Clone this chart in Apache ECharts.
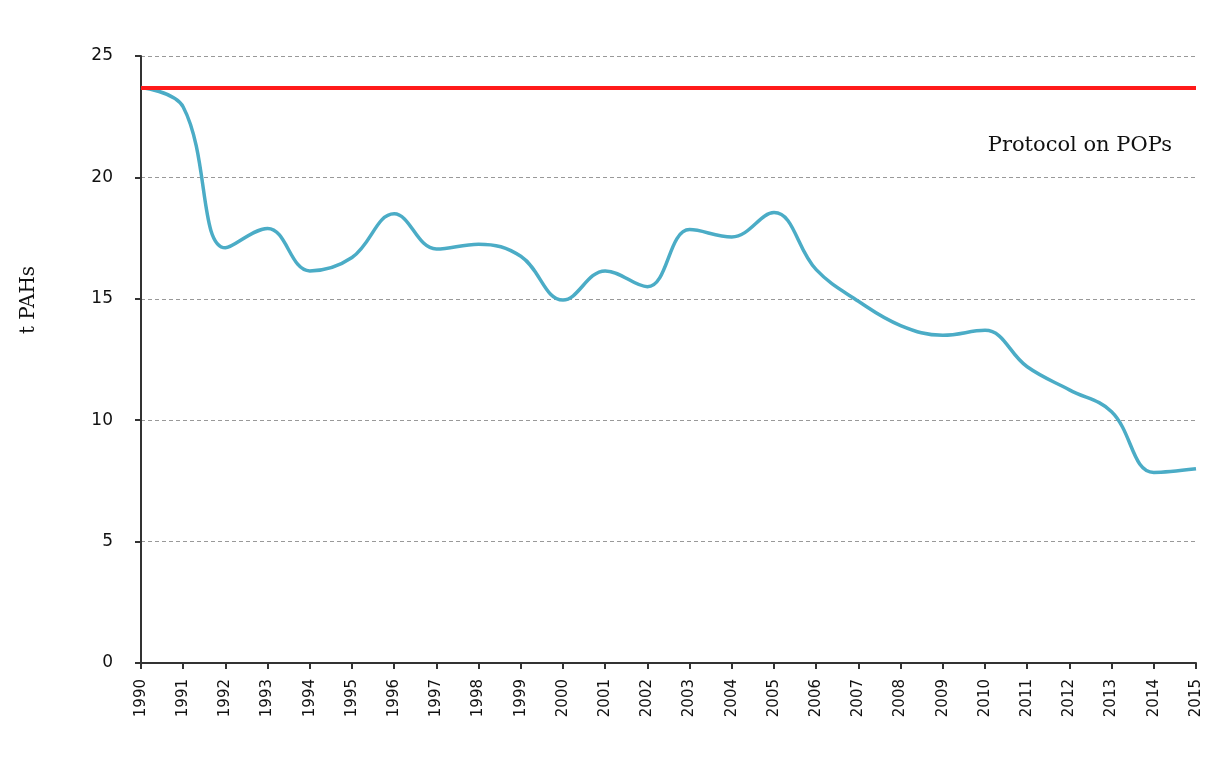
<!DOCTYPE html>
<html>
<head>
<meta charset="utf-8">
<script src="https://cdn.jsdelivr.net/npm/echarts@6/dist/echarts.min.js"></script>
<style>
  html, body { margin: 0; padding: 0; background: #fff; }
  #chart { width: 1209px; height: 773px; }
</style>
</head>
<body>
<div id="chart"></div>
<script>
// data
const years = ['1990', '1991', '1992', '1993', '1994', '1995', '1996', '1997', '1998', '1999',
  '2000', '2001', '2002', '2003', '2004', '2005', '2006', '2007', '2008', '2009',
  '2010', '2011', '2012', '2013', '2014', '2015']
const pahEmissions = [23.7, 22.9, 17.1, 17.9, 16.15, 16.7, 18.5, 17.05, 17.25, 16.75,
  14.95, 16.15, 15.5, 17.85, 17.55, 18.55, 16.2, 14.9, 13.9, 13.5,
  13.7, 12.2, 11.25, 10.35, 7.85, 8.0]
const protocolLevel = 23.7
const yTicks = [0, 5, 10, 15, 20, 25]

const chart = echarts.init(document.getElementById('chart'))

const option = {
  animation: false,
  grid: { left: 141, right: 13, top: 56, bottom: 110 },
  xAxis: {
    type: 'category',
    data: years,
    boundaryGap: false,
    axisLine: { lineStyle: { color: '#333', width: 2 } },
    axisTick: { show: true, alignWithLabel: true, length: 6, lineStyle: { color: '#333', width: 2 } },
    axisLabel: {
      rotate: 90,
      interval: 0,
      color: '#111',
      fontFamily: 'DejaVu Sans',
      fontSize: 15,
      margin: 16,
    },
  },
  yAxis: {
    type: 'value',
    min: yTicks[0],
    max: yTicks[yTicks.length - 1],
    interval: 5,
    axisLine: { show: true, lineStyle: { color: '#333', width: 2 } },
    axisTick: { show: true, length: 6, lineStyle: { color: '#333', width: 2 } },
    axisLabel: { color: '#111', fontFamily: 'DejaVu Sans', fontSize: 17, margin: 28 },
    splitLine: { show: true, lineStyle: { color: '#999', type: [4, 3], width: 1 } },
  },
  series: [
    {
      name: 'PAHs',
      type: 'line',
      data: pahEmissions,
      smooth: 0.4,
      showSymbol: false,
      lineStyle: { color: '#4BACC6', width: 3.5 },
      z: 3,
      markLine: {
        silent: true,
        symbol: 'none',
        data: [{ yAxis: protocolLevel }],
        lineStyle: { color: '#FF1A1A', width: 4, type: 'solid' },
        label: { show: false },
        z: 4,
      },
    },
  ],
  graphic: [
    {
      type: 'text',
      x: 1172,
      y: 146,
      style: {
        text: 'Protocol on POPs',
        fill: '#111',
        font: '21px "DejaVu Serif"',
        align: 'right',
        verticalAlign: 'middle',
      },
    },
    {
      type: 'text',
      x: 29,
      y: 300,
      rotation: Math.PI / 2,
      style: {
        text: 't PAHs',
        fill: '#111',
        font: '20px "DejaVu Serif"',
        align: 'center',
        verticalAlign: 'middle',
      },
    },
  ],
}

chart.setOption(option)
</script>
</body>
</html>
